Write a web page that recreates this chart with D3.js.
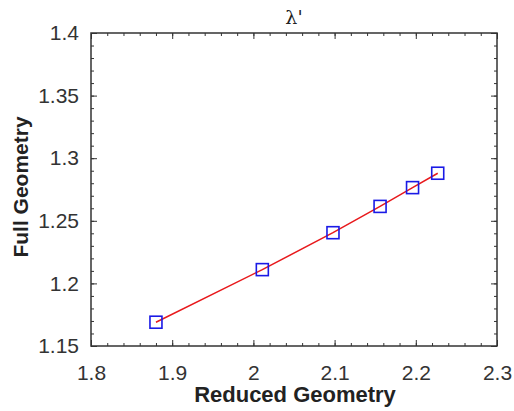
<!DOCTYPE html>
<html>
<head>
<meta charset="utf-8">
<script src="https://cdn.jsdelivr.net/npm/d3@7"></script>
<style>
  body { margin: 0; background: #fff; }
  text { font-family: "Liberation Sans", Arial, sans-serif; }
</style>
</head>
<body>
<svg id="chart" width="514" height="411"></svg>
<script>
// data
let reduced = [1.880, 2.011, 2.098, 2.156, 2.196, 2.227];
let full = [1.169, 1.211, 1.2405, 1.2615, 1.2765, 1.288];
let xTicks = [1.8, 1.9, 2.0, 2.1, 2.2, 2.3];
let yTicks = [1.15, 1.2, 1.25, 1.3, 1.35, 1.4];

let margin = {top: 33, right: 17, bottom: 65, left: 91};
let width = 514 - margin.left - margin.right;
let height = 411 - margin.top - margin.bottom;

let svg = d3.select("#chart");
let g = svg.append("g").attr("transform", "translate(" + margin.left + "," + margin.top + ")");

let x = d3.scaleLinear().domain([1.8, 2.3]).range([0, width]);
let y = d3.scaleLinear().domain([1.15, 1.4]).range([height, 0]);

let xMinor = d3.range(1.8, 2.3001, 0.02);
let yMinor = d3.range(1.15, 1.4001, 0.01);
let axisColor = "#333";

// minor ticks, inward on all four sides
function minorAxis(axisFn, scale, ticks, size) {
    return axisFn(scale).tickValues(ticks).tickSize(size).tickFormat("");
}
g.append("g").attr("transform", "translate(0," + height + ")")
    .call(minorAxis(d3.axisBottom, x, xMinor, -3));
g.append("g").call(minorAxis(d3.axisTop, x, xMinor, -3));
g.append("g").call(minorAxis(d3.axisLeft, y, yMinor, -3));
g.append("g").attr("transform", "translate(" + width + ",0)")
    .call(minorAxis(d3.axisRight, y, yMinor, -3));

// major ticks
g.append("g").attr("class", "xaxis").attr("transform", "translate(0," + height + ")")
    .call(d3.axisBottom(x).tickValues(xTicks).tickSize(-6).tickPadding(19)
        .tickFormat(function(d){ return +d.toFixed(1); }));
g.append("g").attr("class", "yaxis")
    .call(d3.axisLeft(y).tickValues(yTicks).tickSize(-6).tickPadding(12)
        .tickFormat(function(d){ return +d.toFixed(2); }));
g.append("g").call(d3.axisTop(x).tickValues(xTicks).tickSize(-6).tickFormat(""));
g.append("g").attr("transform", "translate(" + width + ",0)")
    .call(d3.axisRight(y).tickValues(yTicks).tickSize(-6).tickFormat(""));

g.selectAll(".domain").remove();
g.selectAll(".tick line").attr("stroke", axisColor).attr("stroke-width", 1);
g.selectAll(".xaxis text, .yaxis text")
    .attr("font-size", 21).attr("fill", "#333")
    .style("font-family", "'Liberation Sans', Arial, sans-serif");

// box
g.append("rect")
    .attr("width", width).attr("height", height)
    .attr("fill", "none").attr("stroke", axisColor).attr("stroke-width", 1.5);

// line
let pts = reduced.map(function(d, i){ return [d, full[i]]; });
g.append("path")
    .datum(pts)
    .attr("fill", "none")
    .attr("stroke", "#e8191c")
    .attr("stroke-width", 1.5)
    .attr("d", d3.line().x(function(d){ return x(d[0]); }).y(function(d){ return y(d[1]); }));

// square markers
g.selectAll(".marker").data(pts).enter().append("rect")
    .attr("class", "marker")
    .attr("x", function(d){ return x(d[0]) - 6; })
    .attr("y", function(d){ return y(d[1]) - 6; })
    .attr("width", 12).attr("height", 12)
    .attr("fill", "none").attr("stroke", "#1a1ae6").attr("stroke-width", 1.6);

// labels
svg.append("text")
    .attr("x", 295).attr("y", 402)
    .attr("text-anchor", "middle")
    .attr("font-size", 22).attr("font-weight", "bold").attr("fill", "#222")
    .text("Reduced Geometry");

svg.append("text")
    .attr("transform", "translate(28,187) rotate(-90)")
    .attr("text-anchor", "middle")
    .attr("font-size", 21).attr("font-weight", "bold").attr("fill", "#222")
    .text("Full Geometry");

svg.append("text")
    .attr("x", 294).attr("y", 24)
    .attr("text-anchor", "middle")
    .attr("font-size", 19).attr("fill", "#222")
    .style("font-family", "'DejaVu Serif', serif")
    .text("λ'");
</script>
</body>
</html>
